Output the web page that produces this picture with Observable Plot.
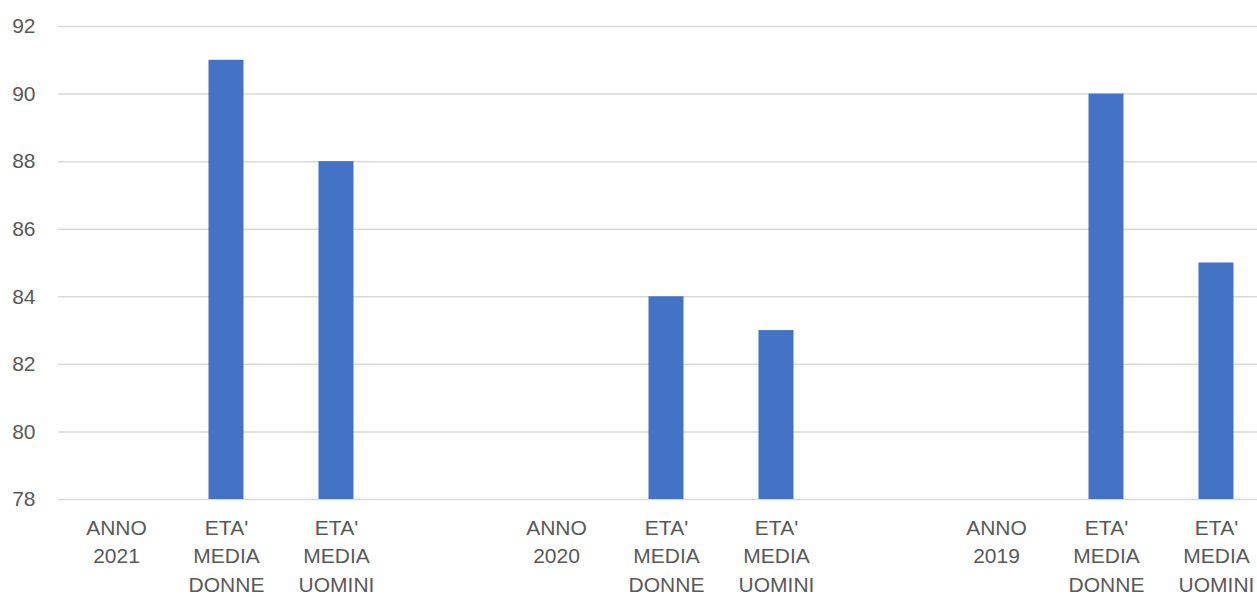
<!DOCTYPE html>
<html>
<head>
<meta charset="utf-8">
<script src="https://cdn.jsdelivr.net/npm/d3@7"></script>
<script src="https://cdn.jsdelivr.net/npm/@observablehq/plot@0.6"></script>
<style>
  html, body { margin: 0; padding: 0; background: #fff; overflow: hidden; }
  #wrap { width: 1257px; height: 597px; overflow: hidden; }
  #wrap svg { max-width: none !important; }
</style>
</head>
<body>
<div id="wrap"></div>
<script>
// Categories (including empty separators between year groups)
const categories = ["a2021","d2021","u2021","gap1","a2020","d2020","u2020","gap2","a2019","d2019","u2019"];
const categoryLabels = [
  "ANNO\n2021", "ETA'\nMEDIA\nDONNE", "ETA'\nMEDIA\nUOMINI", "",
  "ANNO\n2020", "ETA'\nMEDIA\nDONNE", "ETA'\nMEDIA\nUOMINI", "",
  "ANNO\n2019", "ETA'\nMEDIA\nDONNE", "ETA'\nMEDIA\nUOMINI"
];
// Bar values
const barCategories = ["d2021","u2021","d2020","u2020","d2019","u2019"];
const barValues = [91, 88, 84, 83, 90, 85];
// Y axis ticks
const yTicks = [78, 80, 82, 84, 86, 88, 90, 92];

const bars = barCategories.map((c, i) => ({cat: c, value: barValues[i]}));
const labels = categories.map((c, i) => ({cat: c, label: categoryLabels[i]}));

const font = "'Liberation Sans', Arial, sans-serif";
const textColor = "#595959";

const chart = Plot.plot({
  width: 1275,
  height: 597,
  marginTop: 26,
  marginBottom: 98,
  marginLeft: 58,
  marginRight: 2,
  style: {fontFamily: font, fontSize: "21px", color: textColor, background: "#fff"},
  x: {domain: categories, padding: 0, axis: null},
  y: {domain: [yTicks[0], yTicks[yTicks.length - 1]], ticks: yTicks},
  marks: [
    Plot.ruleY(yTicks, {stroke: "#d9d9d9", strokeWidth: 1.5}),
    Plot.barY(bars, {x: "cat", y: "value", fill: "#4472C4", insetLeft: 37.5, insetRight: 37.5, clip: true}),
    Plot.axisY(yTicks, {tickSize: 0, tickPadding: 23, label: null, fontSize: 21, fill: textColor, tickFormat: d => String(d)}),
    Plot.text(labels, {
      x: "cat", text: "label", frameAnchor: "bottom", lineAnchor: "top",
      dy: 15, lineHeight: 1.36, fontSize: 21, fill: textColor
    })
  ]
});
document.getElementById("wrap").appendChild(chart);
</script>
</body>
</html>
